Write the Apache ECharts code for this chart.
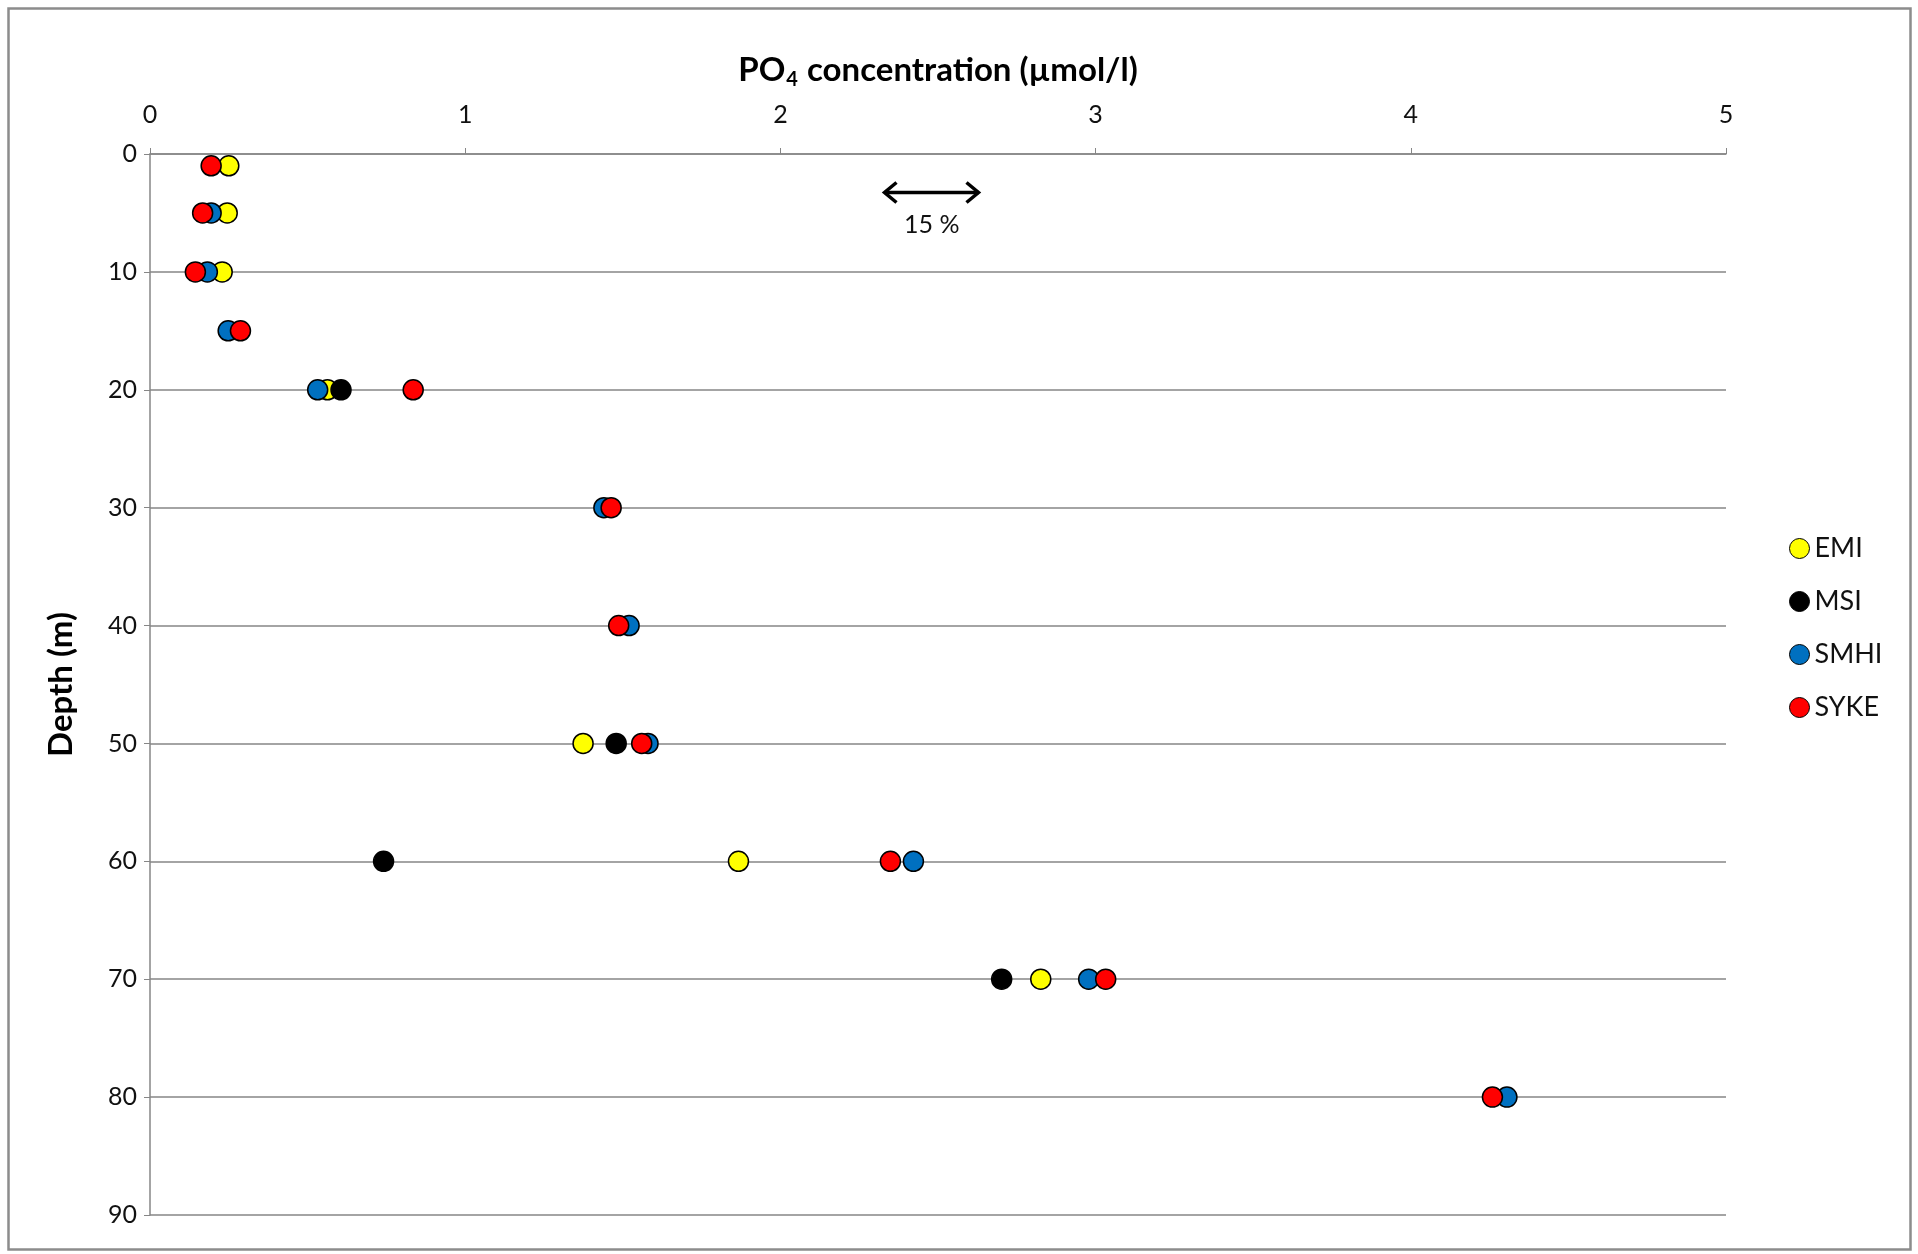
<!DOCTYPE html>
<html>
<head>
<meta charset="utf-8">
<script src="https://cdn.jsdelivr.net/npm/echarts@6/dist/echarts.min.js"></script>
<style>
  html, body { margin: 0; padding: 0; background: #fff; }
  #chart { width: 1918px; height: 1254px; }
</style>
</head>
<body>
<div id="chart"></div>
<script>
// depth levels (m)
var depths = [1, 5, 10, 15, 20, 30, 40, 50, 60, 70, 80]
// PO4 concentration (umol/l) per lab, null where not measured
var emi  = [0.25, 0.245, 0.229, null, 0.563, null, null, 1.374, 1.867, 2.826, null]
var msi  = [null, null, null, null, 0.606, null, null, 1.479, 0.741, 2.702, null]
var smhi = [null, 0.194, 0.182, 0.248, 0.532, 1.44, 1.52, 1.58, 2.422, 2.978, 4.305]
var syke = [0.194, 0.167, 0.144, 0.287, 0.835, 1.463, 1.487, 1.56, 2.349, 3.032, 4.259]

var labNames = ['EMI', 'MSI', 'SMHI', 'SYKE']
var labColors = ['#FFFF00', '#000000', '#0070C0', '#FF0000']
var xTicks = [0, 1, 2, 3, 4, 5]
var yTicks = [0, 10, 20, 30, 40, 50, 60, 70, 80, 90]

var FONT = 'Lato, "Open Sans", sans-serif'

function toPoints(values) {
    var pts = []
    values.forEach(function (v, i) {
        if (v !== null) pts.push([v, depths[i]])
    })
    return pts
}

var series = [emi, msi, smhi, syke].map(function (vals, i) {
    return {
        name: labNames[i],
        type: 'scatter',
        symbol: 'circle',
        symbolSize: 20,
        itemStyle: {
            color: labColors[i],
            borderColor: '#000',
            borderWidth: 1.5,
            opacity: 1
        },
        data: toPoints(vals)
    }
})

var option = {
    backgroundColor: '#fff',
    animation: false,
    textStyle: { fontFamily: FONT },
    grid: { left: 150, right: 192, top: 154, bottom: 39 },
    legend: {
        orient: 'vertical',
        left: 1784,
        top: 530,
        icon: 'circle',
        itemWidth: 20,
        itemHeight: 20,
        itemGap: 26,
        data: labNames,
        itemStyle: { borderColor: '#000', borderWidth: 1 },
        textStyle: { fontFamily: FONT, fontSize: 27, color: '#111', padding: [0, 0, 0, 0] }
    },
    xAxis: {
        type: 'value',
        position: 'top',
        min: xTicks[0],
        max: xTicks[xTicks.length - 1],
        interval: 1,
        name: '{b|PO}{sub|4}{b| concentration (µmol/l)}',
        nameLocation: 'middle',
        nameGap: 64,
        nameTextStyle: {
            rich: {
                b: { fontFamily: FONT, fontSize: 33, fontWeight: 'bold', color: '#000' },
                sub: { fontFamily: FONT, fontSize: 20, fontWeight: 'bold', color: '#000', padding: [20, 1, 0, 1] }
            }
        },
        axisLine: { show: true, lineStyle: { color: '#868686', width: 1.5 } },
        axisTick: { show: true, inside: false, length: 6, lineStyle: { color: '#868686' } },
        axisLabel: { fontFamily: FONT, fontSize: 25, color: '#111', margin: 27 },
        splitLine: { show: false }
    },
    yAxis: {
        type: 'value',
        inverse: true,
        min: yTicks[0],
        max: yTicks[yTicks.length - 1],
        interval: 10,
        name: 'Depth (m)',
        nameLocation: 'middle',
        nameRotate: 90,
        nameGap: 72,
        nameTextStyle: { fontFamily: FONT, fontSize: 33, fontWeight: 'bold', color: '#000' },
        axisLine: { show: true, lineStyle: { color: '#868686', width: 1.5 } },
        axisTick: { show: true, inside: false, length: 6, lineStyle: { color: '#868686' } },
        axisLabel: { fontFamily: FONT, fontSize: 25, color: '#111', margin: 13 },
        splitLine: { show: true, lineStyle: { color: '#868686', width: 1.5 } }
    },
    graphic: [
        // outer frame
        {
            type: 'rect',
            left: 6, top: 6,
            shape: { width: 1902, height: 1241 },
            style: { fill: 'none', stroke: '#8c8c8c', lineWidth: 2.5 },
            silent: true
        },
        // 15 % double arrow
        {
            type: 'group',
            left: 882, top: 180,
            children: [
                { type: 'line', shape: { x1: 2, y1: 12, x2: 96, y2: 12 }, style: { stroke: '#000', lineWidth: 3.5 } },
                { type: 'polyline', shape: { points: [[14, 2], [2, 12], [14, 22]] }, style: { stroke: '#000', lineWidth: 3.5, fill: 'none' } },
                { type: 'polyline', shape: { points: [[84, 2], [96, 12], [84, 22]] }, style: { stroke: '#000', lineWidth: 3.5, fill: 'none' } }
            ]
        },
        {
            type: 'text',
            left: 904, top: 212,
            style: { text: '15 %', font: '25px ' + FONT, fill: '#111' }
        }
    ],
    series: series
}

var chart = echarts.init(document.getElementById('chart'))
chart.setOption(option)
</script>
</body>
</html>
